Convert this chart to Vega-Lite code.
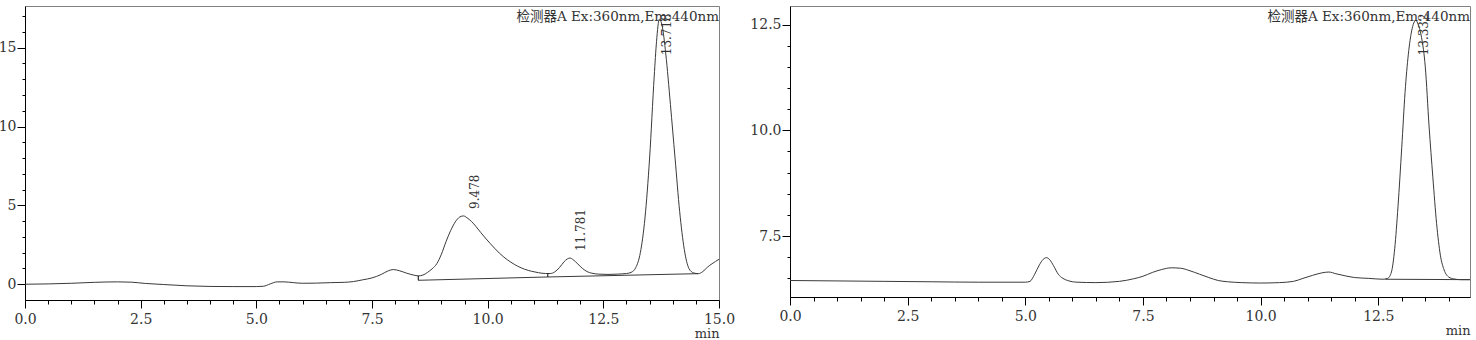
{
  "$schema": "https://vega.github.io/schema/vega-lite/v6.json",
  "background": "white",
  "padding": {"left": -3, "top": 5, "right": 5, "bottom": 0},
  "config": {
    "view": {"stroke": "#808080", "strokeWidth": 1},
    "axis": {
      "domainColor": "#000", "tickColor": "#000", "grid": false,
      "labelFont": "DejaVu Serif", "labelFontSize": 14, "labelColor": "#333",
      "titleFont": "DejaVu Serif", "titleFontSize": 13, "titleFontWeight": "normal", "titleColor": "#333",
      "labelOverlap": false, "labelFlush": false
    }
  },
  "datasets": {
    "leftCurve": [
      {"t":0,"v":0},{"t":0.5,"v":0.02},{"t":1.0,"v":0.06},{"t":1.5,"v":0.12},{"t":2.0,"v":0.15},{"t":2.3,"v":0.13},{"t":2.6,"v":0.05},{"t":3.0,"v":-0.02},{"t":3.5,"v":-0.1},{"t":4.0,"v":-0.14},{"t":4.5,"v":-0.15},{"t":5.0,"v":-0.15},{"t":5.15,"v":-0.13},{"t":5.3,"v":0.02},{"t":5.45,"v":0.15},{"t":5.6,"v":0.15},{"t":5.8,"v":0.1},{"t":6.0,"v":0.06},{"t":6.3,"v":0.07},{"t":6.6,"v":0.1},{"t":6.9,"v":0.12},{"t":7.1,"v":0.17},{"t":7.3,"v":0.28},{"t":7.5,"v":0.4},{"t":7.7,"v":0.62},{"t":7.85,"v":0.85},{"t":7.96,"v":0.93},{"t":8.1,"v":0.85},{"t":8.25,"v":0.7},{"t":8.4,"v":0.58},{"t":8.5,"v":0.53},{"t":8.6,"v":0.58},{"t":8.7,"v":0.75},{"t":8.8,"v":0.98},{"t":8.9,"v":1.3},{"t":9.0,"v":1.9},{"t":9.1,"v":2.7},{"t":9.2,"v":3.4},{"t":9.3,"v":3.95},{"t":9.4,"v":4.27},{"t":9.478,"v":4.33},{"t":9.55,"v":4.22},{"t":9.65,"v":3.98},{"t":9.75,"v":3.65},{"t":9.85,"v":3.28},{"t":9.95,"v":2.93},{"t":10.05,"v":2.6},{"t":10.15,"v":2.28},{"t":10.25,"v":1.98},{"t":10.35,"v":1.72},{"t":10.5,"v":1.4},{"t":10.65,"v":1.14},{"t":10.8,"v":0.95},{"t":10.95,"v":0.82},{"t":11.1,"v":0.73},{"t":11.25,"v":0.68},{"t":11.35,"v":0.68},{"t":11.45,"v":0.78},{"t":11.55,"v":1.05},{"t":11.65,"v":1.42},{"t":11.72,"v":1.6},{"t":11.78,"v":1.66},{"t":11.85,"v":1.55},{"t":11.95,"v":1.28},{"t":12.05,"v":1.0},{"t":12.15,"v":0.8},{"t":12.25,"v":0.7},{"t":12.4,"v":0.64},{"t":12.6,"v":0.62},{"t":12.8,"v":0.64},{"t":13.0,"v":0.68},{"t":13.1,"v":0.75},{"t":13.2,"v":1.05},{"t":13.3,"v":2.0},{"t":13.4,"v":4.2},{"t":13.5,"v":8.0},{"t":13.6,"v":13.2},{"t":13.65,"v":15.4},{"t":13.71,"v":16.8},{"t":13.77,"v":16.4},{"t":13.85,"v":14.6},{"t":13.95,"v":11.4},{"t":14.05,"v":8.0},{"t":14.15,"v":4.6},{"t":14.25,"v":2.2},{"t":14.35,"v":1.0},{"t":14.45,"v":0.72},{"t":14.55,"v":0.67},{"t":14.65,"v":0.8},{"t":14.75,"v":1.08},{"t":14.85,"v":1.3},{"t":15.0,"v":1.58}
    ],
    "leftBase": [
      {"seg":"a","t":8.5,"v":0.25},{"seg":"a","t":11.3,"v":0.46},
      {"seg":"b","t":11.3,"v":0.46},{"seg":"b","t":14.55,"v":0.67}
    ],
    "leftDrops": [
      {"t":8.5,"v":0.25,"v2":0.53},{"t":11.3,"v":0.46,"v2":0.67}
    ],
    "leftPeaks": [
      {"t":9.478,"v":4.33,"label":"9.478"},{"t":11.781,"v":1.66,"label":"11.781"},{"t":13.71,"v":16.8,"label":"13.718"}
    ],
    "leftHeader": [
      {"t":15,"v":17.64,"label":"检测器A Ex:360nm,Em:440nm"}
    ],
    "rightCurve": [
      {"t":0,"v":6.45},{"t":1,"v":6.44},{"t":2,"v":6.43},{"t":3,"v":6.42},{"t":4,"v":6.41},{"t":5.0,"v":6.41},{"t":5.1,"v":6.43},{"t":5.2,"v":6.6},{"t":5.3,"v":6.82},{"t":5.38,"v":6.95},{"t":5.45,"v":6.99},{"t":5.52,"v":6.94},{"t":5.6,"v":6.8},{"t":5.7,"v":6.6},{"t":5.8,"v":6.5},{"t":5.9,"v":6.45},{"t":6.1,"v":6.41},{"t":6.5,"v":6.4},{"t":7.0,"v":6.43},{"t":7.3,"v":6.49},{"t":7.5,"v":6.55},{"t":7.7,"v":6.64},{"t":7.9,"v":6.71},{"t":8.1,"v":6.75},{"t":8.3,"v":6.74},{"t":8.5,"v":6.68},{"t":8.7,"v":6.6},{"t":8.9,"v":6.52},{"t":9.1,"v":6.45},{"t":9.3,"v":6.42},{"t":9.6,"v":6.4},{"t":10.0,"v":6.39},{"t":10.4,"v":6.4},{"t":10.7,"v":6.43},{"t":10.9,"v":6.5},{"t":11.1,"v":6.57},{"t":11.3,"v":6.63},{"t":11.45,"v":6.65},{"t":11.6,"v":6.61},{"t":11.8,"v":6.56},{"t":12.0,"v":6.52},{"t":12.3,"v":6.5},{"t":12.6,"v":6.48},{"t":12.7,"v":6.5},{"t":12.78,"v":6.65},{"t":12.85,"v":7.2},{"t":12.92,"v":8.2},{"t":13.0,"v":9.6},{"t":13.07,"v":10.9},{"t":13.14,"v":11.8},{"t":13.21,"v":12.35},{"t":13.3,"v":12.6},{"t":13.35,"v":12.5},{"t":13.42,"v":12.2},{"t":13.5,"v":11.5},{"t":13.58,"v":10.1},{"t":13.66,"v":8.9},{"t":13.74,"v":7.8},{"t":13.82,"v":7.05},{"t":13.9,"v":6.7},{"t":14.0,"v":6.53},{"t":14.1,"v":6.49},{"t":14.25,"v":6.47},{"t":14.45,"v":6.47}
    ],
    "rightBase": [
      {"seg":"a","t":12.65,"v":6.48},{"seg":"a","t":14.45,"v":6.47}
    ],
    "rightPeaks": [
      {"t":13.3,"v":12.6,"label":"13.332"}
    ],
    "rightHeader": [
      {"t":14.45,"v":12.94,"label":"检测器A Ex:360nm,Em:440nm"}
    ]
  },
  "spacing": 71,
  "bounds": "flush",
  "hconcat": [
    {
      "width": 694,
      "height": 294,
      "encoding": {
        "x": {"field": "t", "type": "quantitative", "scale": {"domain": [0, 15], "nice": false, "zero": false},
          "axis": {"title": "min", "titleAnchor": "end", "titlePadding": 1,
            "values": [0,0.5,1,1.5,2,2.5,3,3.5,4,4.5,5,5.5,6,6.5,7,7.5,8,8.5,9,9.5,10,10.5,11,11.5,12,12.5,13,13.5,14,14.5,15],
            "labelExpr": "abs(datum.value/2.5 - round(datum.value/2.5)) < 0.01 ? format(datum.value, '.1f') : ''",
            "tickSize": {"condition": {"test": "abs(datum.value/2.5 - round(datum.value/2.5)) < 0.01", "value": 8}, "value": 4},
            "labelPadding": 4}},
        "y": {"field": "v", "type": "quantitative", "scale": {"domain": [-1, 17.64], "nice": false, "zero": false},
          "axis": {"title": null,
            "values": [0,1,2,3,4,5,6,7,8,9,10,11,12,13,14,15,16,17],
            "labelExpr": "datum.value % 5 == 0 ? format(datum.value, 'd') : ''",
            "tickSize": {"condition": {"test": "datum.value % 5 == 0", "value": 8}, "value": 3},
            "labelPadding": 1}}
      },
      "layer": [
        {"data": {"name": "leftCurve"}, "mark": {"type": "line", "color": "#3a3a3a", "strokeWidth": 1, "interpolate": "monotone", "clip": true}},
        {"data": {"name": "leftBase"}, "mark": {"type": "line", "color": "#3a3a3a", "strokeWidth": 1}, "encoding": {"detail": {"field": "seg"}}},
        {"data": {"name": "leftDrops"}, "mark": {"type": "rule", "color": "#000", "strokeWidth": 1}, "encoding": {"y2": {"field": "v2"}}},
        {"data": {"name": "leftPeaks"}, "transform": [{"filter": "datum.v < 10"}], "mark": {"type": "text", "angle": 270, "align": "left", "baseline": "middle", "dx": 7, "dy": 11, "font": "DejaVu Serif", "fontSize": 12, "color": "#333"}, "encoding": {"text": {"field": "label"}}},
        {"data": {"name": "leftPeaks"}, "transform": [{"filter": "datum.v >= 10"}], "mark": {"type": "text", "angle": 270, "align": "right", "baseline": "middle", "dx": 6, "dy": 8, "font": "DejaVu Serif", "fontSize": 12, "color": "#333"}, "encoding": {"text": {"field": "label"}}},
        {"data": {"name": "leftHeader"}, "mark": {"type": "text", "align": "right", "baseline": "alphabetic", "dy": 15, "font": "DejaVu Serif, Noto Sans CJK SC", "fontSize": 13.5, "color": "#333"}, "encoding": {"text": {"field": "label"}}}
      ]
    },
    {
      "width": 680,
      "height": 291,
      "encoding": {
        "x": {"field": "t", "type": "quantitative", "scale": {"domain": [0, 14.45], "nice": false, "zero": false},
          "axis": {"title": "min", "titleAnchor": "end", "titlePadding": 1,
            "values": [0,0.5,1,1.5,2,2.5,3,3.5,4,4.5,5,5.5,6,6.5,7,7.5,8,8.5,9,9.5,10,10.5,11,11.5,12,12.5,13,13.5,14],
            "labelExpr": "abs(datum.value/2.5 - round(datum.value/2.5)) < 0.01 ? format(datum.value, '.1f') : ''",
            "tickSize": {"condition": {"test": "abs(datum.value/2.5 - round(datum.value/2.5)) < 0.01", "value": 8}, "value": 4},
            "labelPadding": 4}},
        "y": {"field": "v", "type": "quantitative", "scale": {"domain": [6.06, 12.94], "nice": false, "zero": false},
          "axis": {"title": null,
            "values": [6.5,7,7.5,8,8.5,9,9.5,10,10.5,11,11.5,12,12.5],
            "labelExpr": "abs(datum.value/2.5 - round(datum.value/2.5)) < 0.01 ? format(datum.value, '.1f') : ''",
            "tickSize": {"condition": {"test": "abs(datum.value/2.5 - round(datum.value/2.5)) < 0.01", "value": 8}, "value": 3},
            "labelPadding": 1}}
      },
      "layer": [
        {"data": {"name": "rightCurve"}, "mark": {"type": "line", "color": "#3a3a3a", "strokeWidth": 1, "interpolate": "monotone", "clip": true}},
        {"data": {"name": "rightBase"}, "mark": {"type": "line", "color": "#3a3a3a", "strokeWidth": 1}, "encoding": {"detail": {"field": "seg"}}},
        {"data": {"name": "rightPeaks"}, "mark": {"type": "text", "angle": 270, "align": "right", "baseline": "middle", "dx": 7, "dy": 8, "font": "DejaVu Serif", "fontSize": 12, "color": "#333"}, "encoding": {"text": {"field": "label"}}},
        {"data": {"name": "rightHeader"}, "mark": {"type": "text", "align": "right", "baseline": "alphabetic", "dy": 15, "font": "DejaVu Serif, Noto Sans CJK SC", "fontSize": 13.5, "color": "#333"}, "encoding": {"text": {"field": "label"}}}
      ]
    }
  ]
}
